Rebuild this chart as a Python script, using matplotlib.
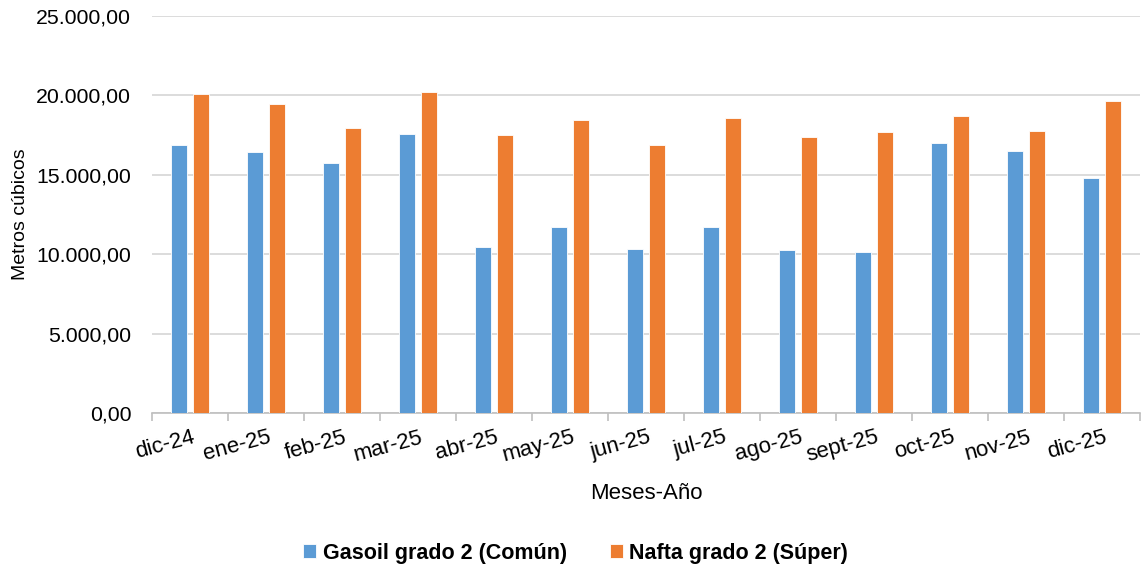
import numpy as np
import matplotlib.pyplot as plt
from matplotlib.ticker import FuncFormatter, FixedLocator

plt.rcParams['font.family'] = ['Liberation Sans', 'DejaVu Sans']

meses = ['dic-24', 'ene-25', 'feb-25', 'mar-25', 'abr-25', 'may-25', 'jun-25',
         'jul-25', 'ago-25', 'sept-25', 'oct-25', 'nov-25', 'dic-25']
gasoil = [16880, 16420, 15740, 17570, 10450, 11710, 10310,
          11710, 10260, 10120, 17000, 16480, 14820]
nafta = [20060, 19460, 17950, 20210, 17510, 18430, 16860,
         18580, 17360, 17670, 18680, 17740, 19630]

azul = '#5B9BD5'
naranja = '#ED7D31'

fig = plt.figure(figsize=(11.43, 5.72), dpi=100)
ax = fig.add_axes([152 / 1143, 1 - 413 / 572, 988 / 1143, 397 / 572])

x = np.arange(len(meses))
w = 0.22
ax.bar(x - 0.145, gasoil, w, color=azul, edgecolor='white', linewidth=0.6,
       label='Gasoil grado 2 (Común)', zorder=3)
ax.bar(x + 0.145, nafta, w, color=naranja, edgecolor='white', linewidth=0.6,
       label='Nafta grado 2 (Súper)', zorder=3)

ax.set_xlim(-0.5, len(meses) - 0.5)
ax.set_ylim(0, 25000)
ax.set_yticks(np.arange(0, 25001, 5000))


def fmt(v, pos):
    s = f'{v:,.2f}'
    return s.replace(',', 'X').replace('.', ',').replace('X', '.')


ax.yaxis.set_major_formatter(FuncFormatter(fmt))
ax.grid(axis='y', color='#D9D9D9', linewidth=1.3, zorder=0)
for s in ['top', 'right', 'left']:
    ax.spines[s].set_visible(False)
ax.spines['bottom'].set_color('#BFBFBF')
ax.spines['bottom'].set_linewidth(1.2)

ax.set_xticks(x + 0.02)
ax.set_xticklabels(meses, rotation=15, ha='right', va='top',
                   rotation_mode='anchor', fontsize=16)
ax.tick_params(axis='x', which='major', length=0, pad=10)
ax.xaxis.set_minor_locator(FixedLocator(np.arange(-0.5, len(meses), 1)))
ax.tick_params(axis='x', which='minor', length=6, color='#BFBFBF', width=1.2)
ax.tick_params(axis='y', length=0, labelsize=15.3, pad=15)

ax.set_ylabel('Metros cúbicos', fontsize=14, labelpad=5)
ax.set_xlabel('Meses-Año', fontsize=16, labelpad=12)

ax.legend(loc='center', bbox_to_anchor=(0.429, -0.353), ncol=2, frameon=False,
          prop={'weight': 'bold', 'size': 15.5}, handlelength=0.6, handleheight=0.6,
          columnspacing=2.0, handletextpad=0.3)

fig.savefig('out.png', dpi=100)
